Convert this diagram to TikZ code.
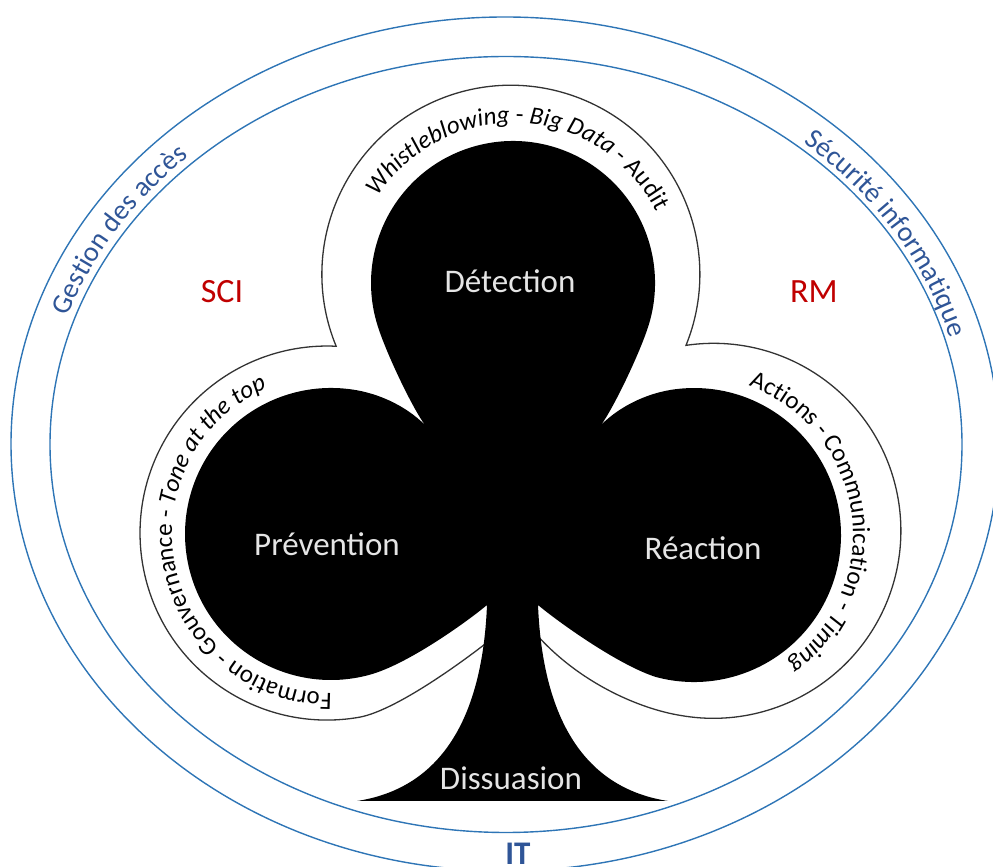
\documentclass[tikz,border=0pt]{standalone}
\usepackage{fontspec}
\setmainfont{Carlito}
\usetikzlibrary{calc,decorations.text}
\definecolor{ringblue}{HTML}{2E75B6}
\definecolor{ringtext}{HTML}{2F5597}
\definecolor{myred}{HTML}{C00000}
\newcommand{\lobefont}{\fontsize{25}{29}\selectfont}
\newcommand{\ringfont}{\fontsize{28}{33}\selectfont\color{ringtext}}

\begin{document}
\begin{tikzpicture}[x=1pt,y=1pt,
    ring/.style={draw=ringblue, line width=1.4pt},
    curved/.style={decorate, decoration={text along path, text align=center, text={#1}}},
    phase/.style={text=white!90!black, font=\fontsize{33}{38}\selectfont},
    area/.style={text=myred, font=\fontsize{34}{40}\selectfont}]
		\useasboundingbox (0,0) rectangle (993,867);
		\clip (0,0) rectangle (993,867);
		%% centres of the rings and of the three leaves
		\coordinate (rings) at (505,423);
		\coordinate (top) at (513,584);
		\coordinate (left) at (331,333);
		\coordinate (right) at (694,332);
		%% the two blue rings
		\draw[ring] (rings) ellipse [x radius=494, y radius=427];
		\draw[ring] (506,422.5) ellipse [x radius=456, y radius=388];
		%% thin line round the leaves, its ends go under the stem
		\draw[line width=1.3pt, black!80] (500,235) .. controls (477,215.5) and (399,157) .. (359.5,149.8)
			arc[start angle=-80, end angle=-272.8, radius=187]
			arc[start angle=202.4, end angle=-22.1, radius=189]
			arc[start angle=98.4, end angle=-100, radius=187.5]
			.. controls (640,158) and (575,185) .. (530,240);
		%% the club
		\fill[black] (357,66) .. controls (435,78) and (482,140) .. (487,262)
			.. controls (468,246) and (407,202) .. (368.8,192)
			arc[start angle=-75, end angle=-275, radius=146]
			.. controls (375,476) and (405,462) .. (425,442)
			.. controls (413,458) and (387,512) .. (378,540.1)
			arc[start angle=198, end angle=-18, radius=142]
			.. controls (639,512) and (613,458) .. (601,442)
			.. controls (621,462) and (651,476) .. (681.2,478.4)
			arc[start angle=95, end angle=-105, radius=147]
			.. controls (618,202) and (557,246) .. (538,262)
			.. controls (543,140) and (590,78) .. (668,66) -- cycle;
		%% words round the leaves
		\path[curved={|\lobefont\itshape|Whistleblowing |\lobefont|- |\lobefont\itshape|Big Data |\lobefont|- Audit}]
			($(top)+(177:160)$) arc[start angle=177, end angle=-3, radius=160];
		\path[curved={|\lobefont|Formation - Gouvernance - |\lobefont\itshape|Tone at the top}]
			($(left)+(-68:159)$) arc[start angle=-68, end angle=-268, radius=159];
		\path[curved={|\lobefont|Actions - Communication - |\lobefont\itshape|Timing}]
			($(right)+(98:159)$) arc[start angle=98, end angle=-82, radius=159];
		%% words between the rings
		\path[curved={|\ringfont|Gestion des accès}]
			($(rings)+(178:462 and 394)$) arc[start angle=178, end angle=118, x radius=462, y radius=394];
		\path[curved={|\ringfont|Sécurité informatique}]
			($(rings)+(62:462 and 394)$) arc[start angle=62, end angle=2, x radius=462, y radius=394];
		%% labels
		\node[phase] (detection) at (510,586) {Détection};
		\node[phase] (prevention) at (327,323) {Prévention};
		\node[phase] (reaction) at (703,319) {Réaction};
		\node[phase] (dissuasion) at (511,89) {Dissuasion};
		\node[area] (sci) at (222,575) {SCI};
		\node[area] (rm) at (814,575) {RM};
		\node[text=ringtext, font=\fontsize{33}{38}\selectfont\bfseries, anchor=base] (it) at (518,2) {IT};
\end{tikzpicture}
\end{document}
